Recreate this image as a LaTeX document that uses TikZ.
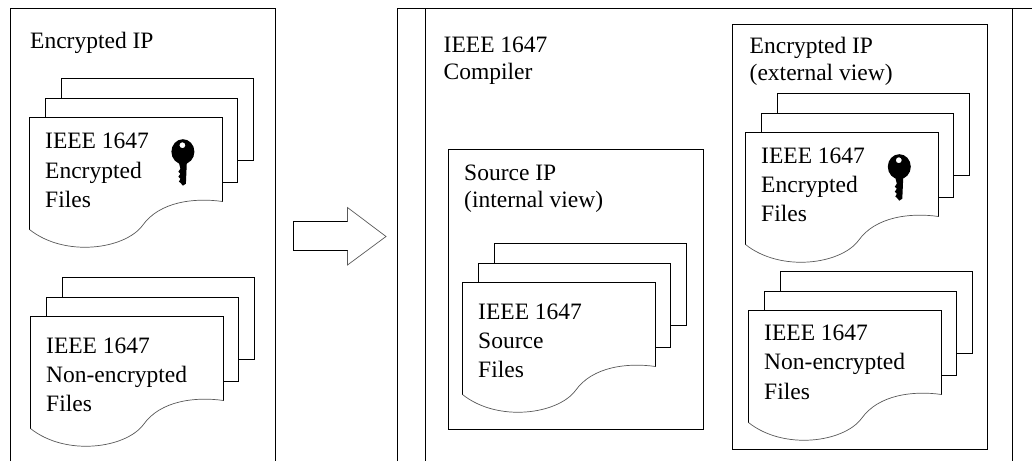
\documentclass[tikz,border=0pt]{standalone}
\usepackage{fontspec}
\setmainfont{Liberation Serif}

\tikzset{
	page/.style={draw,fill=white,line width=1pt},
	curveline/.style={draw=black!65,line width=.7pt},
	filetext/.style={anchor=north west,inner sep=0pt,align=left,font=\fontsize{23.5}{29.3}\selectfont},
	boxtext/.style={anchor=north west,inner sep=0pt,align=left,font=\fontsize{23.5}{26.7}\selectfont},
	frameline/.style={line width=1pt}
}

\begin{document}
\begin{tikzpicture}
	[x=1pt,y=-1pt]
	\useasboundingbox (0,0) rectangle (1032,461);
	
	% outer boxes, open at the bottom
	\draw[frameline] (10.5,461) -- (10.5,8.5) -- (275.5,8.5) -- (275.5,461);
	\draw[frameline] (397.5,461) -- (397.5,8.5) -- (1032,8.5);
	\draw[frameline] (425.5,8.5) -- (425.5,461);
	\draw[frameline] (1012.5,8.5) -- (1012.5,461);
	\draw[frameline] (448.5,149.5) rectangle (703.5,429.5);
	\draw[frameline] (732.5,24.5) rectangle (987.5,449.5);
	
	\node[boxtext] (enc) at (30,32) {Encrypted IP};
	\node[boxtext] (comp) at (443.5,36.8) {IEEE 1647\\Compiler};
	\node[boxtext] (src) at (464,165) {Source IP\\(internal view)};
	\node[boxtext] (ext) at (749.5,36.8) {Encrypted IP\\(external view)};
	
	% page stacks
	\foreach \name/\x/\y/\dy/\txt in {
		f1/29.5/117.5/15.6/{IEEE 1647\\Encrypted\\Files},
		f2/30.5/316.5/20.9/{IEEE 1647\\Non-encrypted\\Files},
		f3/462.5/282.5/20.8/{IEEE 1647\\Source\\Files},
		f4/745.5/132.5/15/{IEEE 1647\\Encrypted\\Files},
		f5/748.5/310.5/14.3/{IEEE 1647\\Non-encrypted\\Files}}
	{
		\begin{scope}[shift={(\x,\y)}]
			\draw[page] (32,-39) rectangle (224,43);
			\draw[page] (16,-19) rectangle (208,65);
			\fill[white] (0,0) -- (193,0) -- (193,84) .. controls (165,80) and (130,84) .. (113,108) .. controls (95,132) and (35,140) .. (0,112) -- cycle;
			\draw[frameline] (0,112) -- (0,0) -- (193,0) -- (193,84);
			\draw[curveline] (193,84) .. controls (165,80) and (130,84) .. (113,108) .. controls (95,132) and (35,140) .. (0,112);
			\node[filetext] (\name) at (15.5,\dy) {\txt};
		\end{scope}
	}
	
	% keys on the encrypted files
	\foreach \x/\y in {182.9/151.7,899.3/166.7}
	{
		\begin{scope}[shift={(\x,\y)}]
			\fill[even odd rule] (0,0) ellipse (11.5 and 12.5) (-.5,-6.5) circle (3);
			\fill (-4.5,9) -- (4,9) -- (3,32) -- (0,34) -- (-2.5,31) -- (-4,30) -- (-2.5,27) -- (-4.5,25) -- (-2.5,22) -- (-4.5,20) -- (-2.5,17) -- cycle;
		\end{scope}
	}
	
	% big arrow
	\draw[frameline] (347.5,221.5) -- (293.5,221.5) -- (293.5,250.5) -- (347.5,250.5);
	\draw[curveline] (347.5,221.5) -- (347.5,207.5) -- (386,236.5) -- (347.5,265) -- (347.5,250.5);
\end{tikzpicture}
\end{document}
